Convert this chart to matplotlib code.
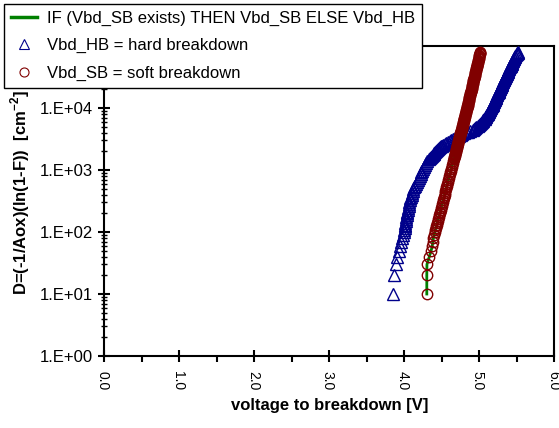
import matplotlib
matplotlib.use('Agg')
import matplotlib.pyplot as plt
import matplotlib.transforms as mtransforms
from matplotlib.ticker import FuncFormatter, LogLocator, MultipleLocator
from matplotlib.lines import Line2D
import numpy as np

plt.rcParams['font.family'] = ['Liberation Sans', 'DejaVu Sans']
plt.rcParams['mathtext.fontset'] = 'custom'
plt.rcParams['mathtext.rm'] = 'Liberation Sans'
plt.rcParams['mathtext.bf'] = 'Liberation Sans:bold'

# defect density levels D [cm^-2] (shared by both breakdown series)
density = [10, 20, 30, 40, 50, 60, 70, 80, 90,
           100, 107, 115, 123, 132, 141, 151, 162, 174, 186,
           200, 214, 229, 245, 263, 282, 302, 324, 347, 372,
           398, 427, 457, 490, 525, 562, 603, 646, 692, 741,
           794, 851, 912, 977, 1047, 1122, 1202, 1288, 1380, 1479,
           1585, 1641, 1698, 1758, 1820, 1884, 1950, 2018, 2089, 2163,
           2239, 2317, 2399, 2483, 2570, 2661, 2754, 2851, 2951, 3055,
           3162, 3273, 3388, 3508, 3631, 3758, 3890, 4027, 4169, 4315,
           4467, 4624, 4786, 4955, 5129, 5309, 5495, 5689, 5888, 6095,
           6310, 6531, 6761, 6998, 7244, 7499, 7762, 8035, 8318, 8610,
           8913, 9226, 9550, 9886, 10233, 10593, 10965, 11350, 11749, 12162,
           12589, 13032, 13490, 13964, 14454, 14962, 15488, 16032, 16596, 17179,
           17783, 18408, 19055, 19724, 20417, 21135, 21878, 22646, 23442, 24266,
           25119, 26002, 26915, 27861, 28840, 29854, 30903, 31989, 33113, 34277,
           35481, 36728, 38019, 39355, 40738, 42170, 43652, 45186, 46774, 48417,
           50119, 51880, 53703, 55590, 57544, 59566, 61660, 63826, 66069, 68391,
           70795, 73282, 75858, 78524, 81283]

# hard breakdown voltage [V]
hb_volts = [3.853, 3.865, 3.887, 3.905, 3.928, 3.948, 3.960, 3.970, 3.982,
            3.995, 3.999, 4.003, 4.007, 4.011, 4.015, 4.019, 4.022, 4.026, 4.030,
            4.034, 4.039, 4.044, 4.050, 4.056, 4.062, 4.067, 4.073, 4.080, 4.088,
            4.096, 4.104, 4.112, 4.121, 4.129, 4.141, 4.153, 4.166, 4.178, 4.190,
            4.203, 4.216, 4.229, 4.242, 4.255, 4.268, 4.281, 4.295, 4.308, 4.325,
            4.347, 4.358, 4.369, 4.380, 4.391, 4.402, 4.413, 4.425, 4.438, 4.452,
            4.466, 4.480, 4.494, 4.508, 4.522, 4.538, 4.554, 4.579, 4.604, 4.628,
            4.653, 4.677, 4.702, 4.726, 4.751, 4.775, 4.800, 4.827, 4.855, 4.882,
            4.910, 4.929, 4.948, 4.962, 4.976, 4.990, 5.004, 5.017, 5.031, 5.043,
            5.055, 5.063, 5.071, 5.079, 5.087, 5.094, 5.102, 5.110, 5.118, 5.126,
            5.134, 5.141, 5.148, 5.153, 5.159, 5.164, 5.170, 5.176, 5.182, 5.187,
            5.193, 5.199, 5.205, 5.210, 5.216, 5.222, 5.228, 5.233, 5.239, 5.244,
            5.250, 5.256, 5.262, 5.267, 5.273, 5.278, 5.284, 5.290, 5.296, 5.301,
            5.307, 5.312, 5.318, 5.324, 5.330, 5.335, 5.341, 5.347, 5.353, 5.358,
            5.364, 5.370, 5.376, 5.381, 5.387, 5.393, 5.399, 5.405, 5.411, 5.417,
            5.424, 5.430, 5.436, 5.442, 5.448, 5.455, 5.462, 5.469, 5.476, 5.482,
            5.489, 5.496, 5.503, 5.510, 5.517]

# soft breakdown voltage [V]
sb_volts = [4.300, 4.300, 4.302, 4.333, 4.358, 4.373, 4.382, 4.388, 4.398,
            4.407, 4.413, 4.420, 4.426, 4.433, 4.439, 4.446, 4.452, 4.458, 4.465,
            4.471, 4.478, 4.484, 4.491, 4.497, 4.503, 4.510, 4.516, 4.523, 4.529,
            4.536, 4.542, 4.548, 4.555, 4.561, 4.568, 4.574, 4.580, 4.587, 4.593,
            4.600, 4.606, 4.613, 4.619, 4.625, 4.632, 4.638, 4.645, 4.651, 4.658,
            4.664, 4.667, 4.670, 4.674, 4.677, 4.680, 4.683, 4.687, 4.690, 4.693,
            4.696, 4.700, 4.703, 4.706, 4.709, 4.712, 4.715, 4.719, 4.722, 4.725,
            4.728, 4.732, 4.735, 4.738, 4.741, 4.745, 4.748, 4.751, 4.754, 4.757,
            4.760, 4.764, 4.767, 4.770, 4.773, 4.777, 4.780, 4.783, 4.786, 4.790,
            4.793, 4.796, 4.799, 4.802, 4.805, 4.809, 4.812, 4.815, 4.818, 4.822,
            4.825, 4.828, 4.831, 4.834, 4.837, 4.840, 4.843, 4.846, 4.849, 4.851,
            4.854, 4.857, 4.860, 4.863, 4.866, 4.869, 4.872, 4.875, 4.878, 4.881,
            4.884, 4.887, 4.890, 4.893, 4.896, 4.898, 4.901, 4.904, 4.907, 4.910,
            4.913, 4.916, 4.919, 4.922, 4.925, 4.928, 4.931, 4.934, 4.937, 4.940,
            4.943, 4.945, 4.948, 4.951, 4.954, 4.957, 4.960, 4.963, 4.966, 4.969,
            4.972, 4.975, 4.978, 4.981, 4.984, 4.987, 4.990, 4.993, 4.996, 4.998,
            5.001, 5.004, 5.007, 5.010, 5.013]

labels = ['IF (Vbd_SB exists) THEN Vbd_SB ELSE Vbd_HB',
          'Vbd_HB = hard breakdown',
          'Vbd_SB = soft breakdown']

green = '#008000'
navy = '#00008b'
maroon = '#800000'

fig = plt.figure(figsize=(5.59, 4.28), dpi=100)
ax = fig.add_axes([104.3 / 559, 1 - 356 / 428, 450 / 559, 310 / 428])

ax.plot(sb_volts, density, color=green, lw=2, zorder=2)
ax.plot(hb_volts, density, ls='none', marker='^', ms=8, mfc='none',
        mec=navy, mew=1.0, zorder=3)
ax.plot(sb_volts, density, ls='none', marker='o', ms=7.5, mfc='none',
        mec=maroon, mew=1.0, zorder=4)

ax.set_yscale('log')
ax.set_xlim(0, 6)
ax.set_ylim(1, 1e5)


def ylab(v, p):
    e = int(round(np.log10(v)))
    if e >= 5:
        return ''  # hidden under the legend box
    return f'1.E+{e:02d}'


ax.xaxis.set_major_locator(MultipleLocator(1))
ax.xaxis.set_minor_locator(MultipleLocator(0.5))
ax.xaxis.set_major_formatter(FuncFormatter(lambda v, p: f'{v:.1f}'))
ax.yaxis.set_major_locator(LogLocator(base=10, numticks=10))
ax.yaxis.set_minor_locator(LogLocator(base=10, subs=np.arange(2, 10), numticks=10))
ax.yaxis.set_major_formatter(FuncFormatter(ylab))

ax.tick_params(axis='both', which='major', direction='inout', length=9, width=1.5)
ax.tick_params(axis='y', which='major', labelsize=12)
ax.tick_params(axis='x', which='major', labelsize=10, pad=6)
ax.tick_params(axis='x', which='minor', direction='out', length=4, width=1.5)
ax.tick_params(axis='y', which='minor', direction='inout', length=5, width=1)
shift = mtransforms.ScaledTranslation(-1.5 / 100, 0, fig.dpi_scale_trans)
for lab in ax.get_xticklabels():
    lab.set_rotation(270)
    lab.set_va('top')
    lab.set_transform(lab.get_transform() + shift)

for sp in ax.spines.values():
    sp.set_linewidth(1.5)

ax.set_xlabel('voltage to breakdown [V]', fontsize=12, fontweight='bold', labelpad=6)
ax.set_ylabel(r'D=(-1/Aox)(ln(1-F))  [cm$^{\mathbf{-2}}$]', fontsize=12,
              fontweight='bold')
ax.yaxis.set_label_coords(-0.161, 0.526)

handles = [Line2D([], [], color=green, lw=2.5),
           Line2D([], [], ls='none', marker='^', ms=6.5, mfc='none', mec=navy, mew=0.8),
           Line2D([], [], ls='none', marker='o', ms=6.5, mfc='none', mec=maroon, mew=0.8)]
leg = fig.legend(handles, labels, loc='upper left',
                 bbox_to_anchor=(4 / 559, 1 - 4 / 428), bbox_transform=fig.transFigure,
                 frameon=True, fancybox=False, framealpha=1, edgecolor='black',
                 borderaxespad=0, fontsize=12, handlelength=1.6, handletextpad=0.6,
                 labelspacing=0.75, borderpad=0.4)
leg.get_frame().set_linewidth(1)

fig.savefig('out.png', dpi=100)
